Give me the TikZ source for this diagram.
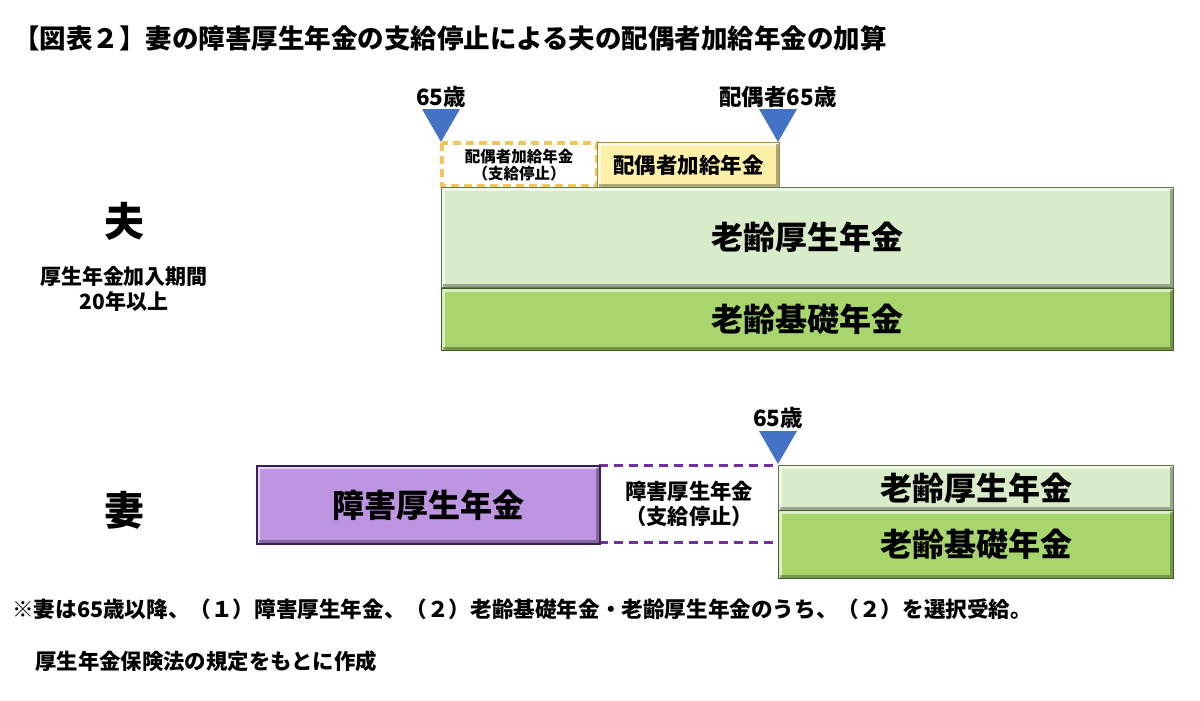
\documentclass[tikz,border=0pt]{standalone}
\usepackage{fontspec}
\setmainfont{Noto Sans CJK JP}
\definecolor{triblue}{HTML}{4472C4}
\definecolor{lgreen}{HTML}{D8ECCA}
\definecolor{lgreenb}{HTML}{5E7A4A}
\definecolor{dgreen}{HTML}{A8D66C}
\definecolor{dgreenb}{HTML}{3F5A22}
\definecolor{ylw}{HTML}{FCEFA8}
\definecolor{ylwb}{HTML}{9C8B3E}
\definecolor{purp}{HTML}{BE95E0}
\definecolor{purpb}{HTML}{3A1E58}
\definecolor{dashor}{HTML}{F2C65C}
\definecolor{dashpu}{HTML}{7030A0}
\tikzset{
  x=1pt,y=-1pt,
  bevel/.style={rectangle,inner sep=0pt,anchor=north west,font=\bfseries,
    path picture={
      \draw[white,opacity=.6,line width=2.6pt]
        ([xshift=1.8pt,yshift=-1.8pt]path picture bounding box.south west) --
        ([xshift=1.8pt,yshift=-1.8pt]path picture bounding box.north west) --
        ([xshift=-1.8pt,yshift=-1.8pt]path picture bounding box.north east);
      \draw[black,opacity=.3,line width=3.4pt]
        ([xshift=-1.8pt,yshift=-1.8pt]path picture bounding box.north east) --
        ([xshift=-1.8pt,yshift=1.8pt]path picture bounding box.south east) --
        ([xshift=1.8pt,yshift=1.8pt]path picture bounding box.south west);
    }},
  lgbox/.style={bevel,fill=lgreen,draw=lgreenb,line width=1.3pt},
  dgbox/.style={bevel,fill=dgreen,draw=dgreenb,line width=1.3pt},
  ybox/.style={bevel,fill=ylw,draw=ylwb,line width=1.3pt},
  pbox/.style={bevel,fill=purp,draw=purpb,line width=1.6pt},
  mark65/.style={fill=triblue,draw=none},
  lbl/.style={font=\bfseries\fontsize{22.5}{24}\selectfont,inner sep=0pt},
  big/.style={font=\bfseries\fontsize{32}{34}\selectfont},
}
\begin{document}
\begin{tikzpicture}
\useasboundingbox[fill=white] (0,0) rectangle (1200,701);

% title
\node[anchor=west,inner sep=0pt,font=\bfseries\fontsize{26.5}{28}\selectfont] (title) at (13,38) {【図表２】妻の障害厚生年金の支給停止による夫の配偶者加給年金の加算};

% husband
\node[inner sep=0pt,font=\bfseries\fontsize{40}{42}\selectfont] (otto) at (124,221) {夫};
\node[inner sep=0pt,align=center,font=\bfseries\fontsize{21}{25}\selectfont] (ottoinfo) at (124,289) {厚生年金加入期間\\20年以上};

\draw[dashor,dashed,dash pattern=on 8pt off 5pt,line width=3.2pt] (442,143) rectangle (597,186);
\node[inner sep=0pt,align=center,font=\bfseries\fontsize{15.5}{17}\selectfont] (kyuteishi) at (519,165) {配偶者加給年金\\（支給停止）};
\node[ybox,minimum width=182pt,minimum height=45pt] (kakyu) at (597,142) {};
\node[font=\bfseries\fontsize{21.5}{23}\selectfont] at (kakyu.center) {配偶者加給年金};

\node[lgbox,minimum width=732pt,minimum height=100pt] (hkosei) at (441,187) {};
\node[big] at (hkosei.center) {老齢厚生年金};
\node[dgbox,minimum width=732pt,minimum height=62pt] (hkiso) at (441,288) {};
\node[big] at (hkiso.center) {老齢基礎年金};

\coordinate (t1) at (441,142);
\coordinate (t2) at (778,142);
\fill[mark65] (t1) -- ++(-19,-33) -- ++(38,0) -- cycle;
\fill[mark65] (t2) -- ++(-19,-33) -- ++(38,0) -- cycle;
\node[lbl] (l1) at (441,97) {65歳};
\node[lbl] (l2) at (778,97) {配偶者65歳};

% wife
\node[inner sep=0pt,font=\bfseries\fontsize{40}{42}\selectfont] (tsuma) at (124,510) {妻};

\draw[dashpu,dashed,dash pattern=on 9pt off 6pt,line width=3pt] (599,465) -- (778,465);
\draw[dashpu,dashed,dash pattern=on 9pt off 6pt,line width=3pt] (599,542) -- (778,542);
\node[inner sep=0pt,align=center,font=\bfseries\fontsize{21.3}{25.5}\selectfont] (shogteishi) at (689,504) {障害厚生年金\\（支給停止）};

\node[pbox,minimum width=343pt,minimum height=78pt] (shogai) at (256,465) {};
\node[big] at (shogai.center) {障害厚生年金};

\node[lgbox,minimum width=395pt,minimum height=45pt] (wkosei) at (778,465) {};
\node[big] at (wkosei.center) {老齢厚生年金};
\node[dgbox,minimum width=395pt,minimum height=68pt] (wkiso) at (778,510) {};
\node[big] at (wkiso.center) {老齢基礎年金};

\coordinate (t3) at (778,464);
\fill[mark65] (t3) -- ++(-19,-33) -- ++(38,0) -- cycle;
\node[lbl] (l3) at (778,418) {65歳};

% notes
\node[anchor=west,inner sep=0pt,font=\bfseries\fontsize{21.6}{23}\selectfont] (note) at (12,609) {※妻は65歳以降、（１）障害厚生年金、（２）老齢基礎年金・老齢厚生年金のうち、（２）を選択受給。};
\node[anchor=west,inner sep=0pt,font=\bfseries\fontsize{21.4}{23}\selectfont] (src) at (35,661) {厚生年金保険法の規定をもとに作成};
\end{tikzpicture}
\end{document}
